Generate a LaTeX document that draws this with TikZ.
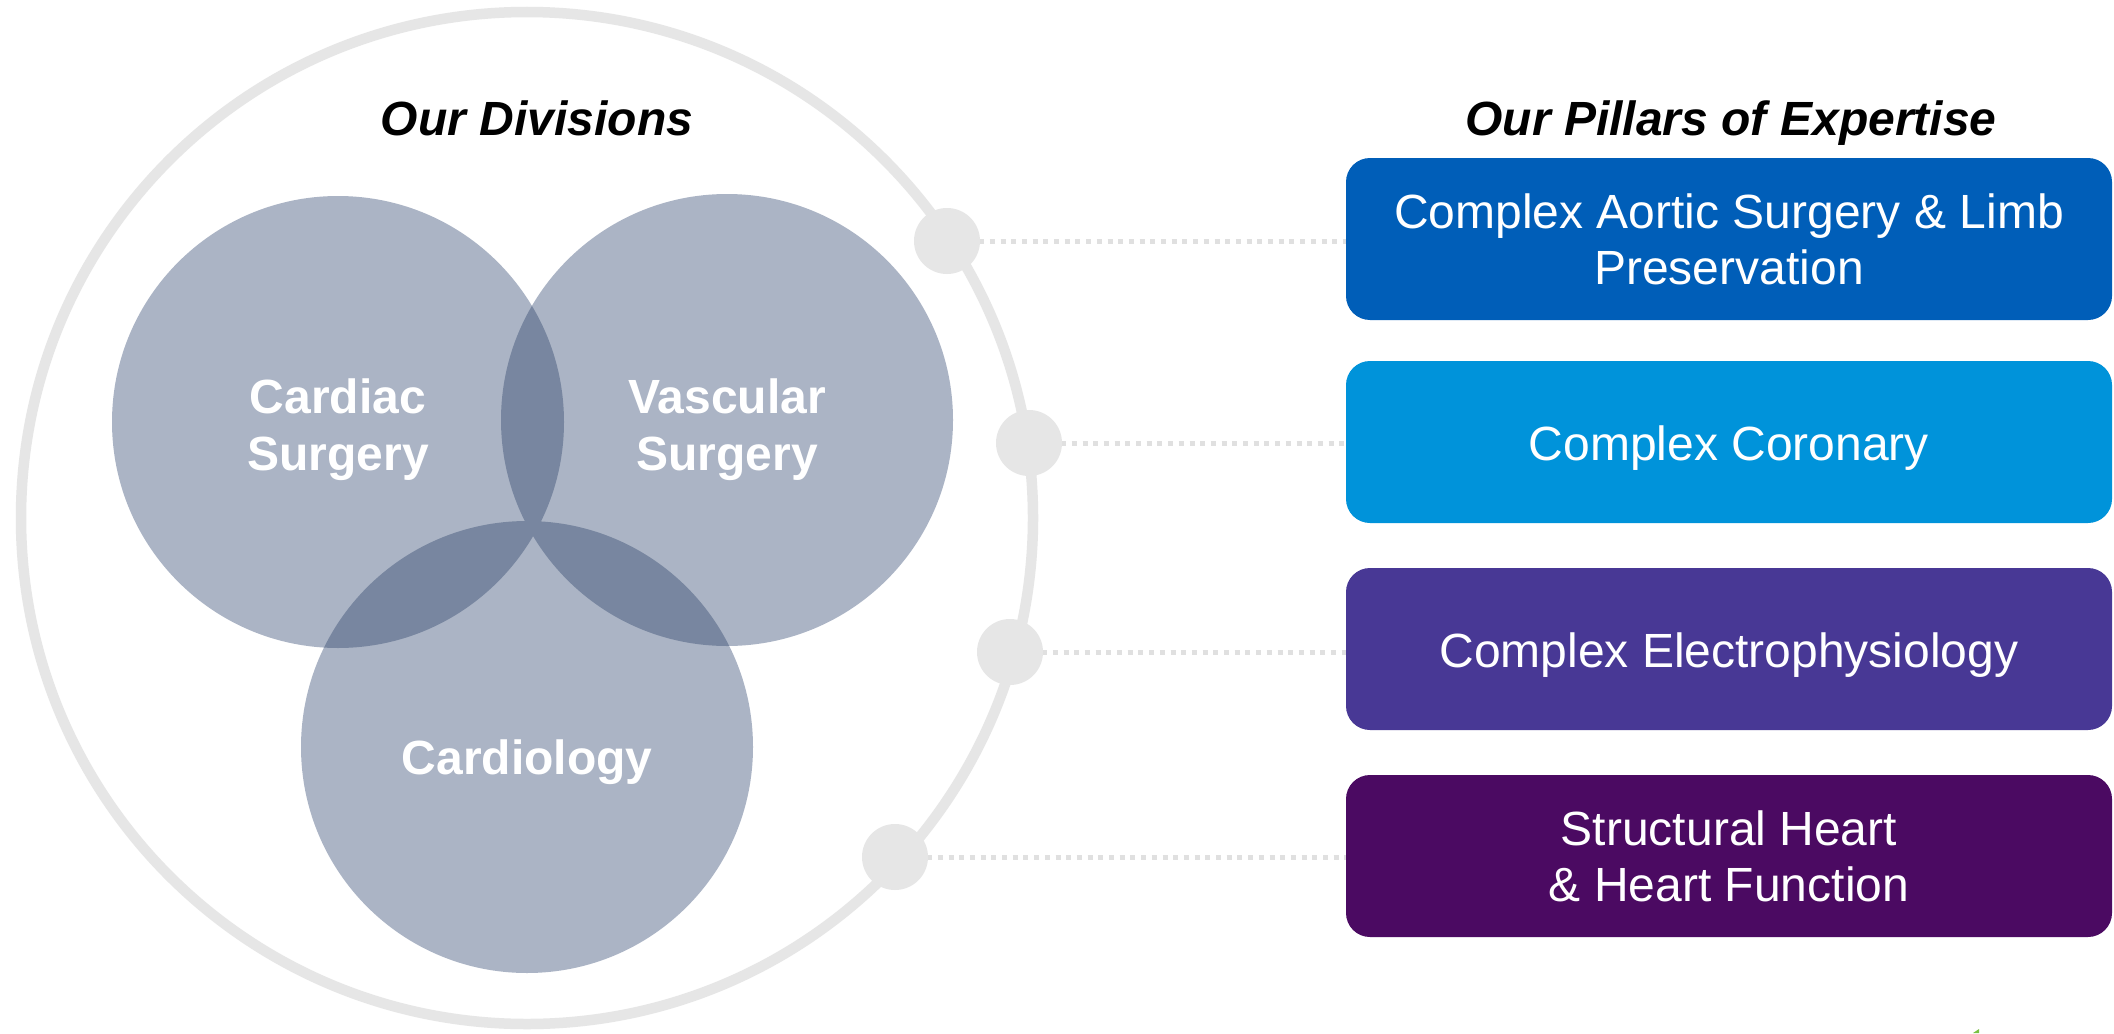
\documentclass[tikz,border=0pt]{standalone}
\usepackage{fontspec}
\setmainfont{Liberation Sans}
\definecolor{ringgray}{HTML}{E6E6E6}
\definecolor{dotline}{HTML}{E0E0E0}
\definecolor{venn}{HTML}{ABB4C5}
\definecolor{vennd}{HTML}{7886A0}
\definecolor{pblue}{HTML}{005EB8}
\definecolor{pcyan}{HTML}{0093DA}
\definecolor{ppurple}{HTML}{483895}
\definecolor{pplum}{HTML}{4B0A62}
\definecolor{tickgreen}{HTML}{7AC143}
\begin{document}
\begin{tikzpicture}[x=1pt,y=-1pt,
  ring/.style={draw=ringgray, line width=10.5pt},
  hub/.style={circle, fill=ringgray, minimum size=66pt, inner sep=0pt},
  leader/.style={draw=dotline, line width=5pt, dash pattern=on 5pt off 5.7pt},
  pillar/.style={rounded corners=24pt, minimum width=766pt, minimum height=162pt, inner sep=0pt},
  pillartext/.style={text=white, font=\fontsize{48}{56}\selectfont, align=center, inner sep=0pt},
  venntext/.style={text=white, font=\bfseries\fontsize{48}{57}\selectfont, align=center, inner sep=0pt},
  title/.style={font=\bfseries\itshape\fontsize{48}{57}\selectfont, anchor=base, inner sep=0pt}]
\fill[white] (0,0) rectangle (2114,1033);
\useasboundingbox (0,0) rectangle (2114,1033);

% outer ring
\draw[ring] (527,518) circle[radius=506pt];

% pillar boxes
\node[pillar, fill=pblue]   (p1) at (1729,239) {};
\node[pillar, fill=pcyan]   (p2) at (1729,442) {};
\node[pillar, fill=ppurple] (p3) at (1729,649) {};
\node[pillar, fill=pplum]   (p4) at (1729,856) {};

% hubs on ring
\coordinate (c1) at (947,241);
\coordinate (c2) at (1029,443);
\coordinate (c3) at (1010,652);
\coordinate (c4) at (895,857);
\draw[leader] (c1) -- (c1 -| p1.west);
\draw[leader] (c2) -- (c2 -| p2.west);
\draw[leader] (c3) -- (c3 -| p3.west);
\draw[leader] (c4) -- (c4 -| p4.west);
\node[hub] (d1) at (c1) {};
\node[hub] (d2) at (c2) {};
\node[hub] (d3) at (c3) {};
\node[hub] (d4) at (c4) {};

% Venn circles
\fill[venn] (338,422) circle[radius=226pt];
\fill[venn] (727,420) circle[radius=226pt];
\fill[venn] (527,747) circle[radius=226pt];
\begin{scope}
  \clip (338,422) circle[radius=226pt];
  \fill[vennd] (727,420) circle[radius=226pt];
  \fill[vennd] (527,747) circle[radius=226pt];
\end{scope}
\begin{scope}
  \clip (727,420) circle[radius=226pt];
  \fill[vennd] (527,747) circle[radius=226pt];
\end{scope}

% labels
\node[venntext] (lc) at (338,430) {Cardiac\\Surgery};
\node[venntext] (lv) at (727,430) {Vascular\\Surgery};
\node[venntext, anchor=base] (lk) at (527,774) {Cardiology};

\node[title] (h1) at (537,135) {Our Divisions};
\node[title] (h2) at (1731,135) {Our Pillars of Expertise};

\node[pillartext] (t1) at (p1.center) {Complex Aortic Surgery \& Limb\\Preservation};
\node[pillartext, yshift=-6pt] (t2) at (p2.center) {Complex Coronary};
\node[pillartext, yshift=-6pt] (t3) at (p3.center) {Complex Electrophysiology};
\node[pillartext] (t4) at (p4.center) {Structural Heart\\\& Heart Function};

% tiny cut-off mark at bottom
\fill[tickgreen] (1973,1033) -- (1979,1029) -- (1979,1033) -- cycle;
\end{tikzpicture}
\end{document}
